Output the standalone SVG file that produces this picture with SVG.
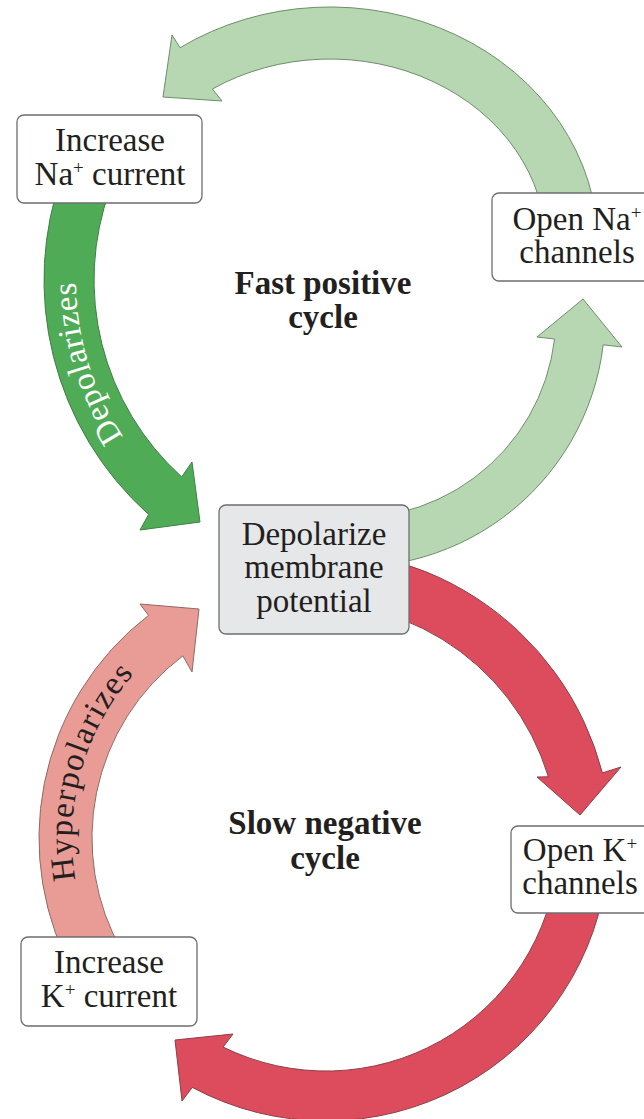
<svg xmlns="http://www.w3.org/2000/svg" width="644" height="1119" viewBox="0 0 644 1119">
<style>
.box{fill:#fff;stroke:#6d6e71;stroke-width:1.3}
.gray{fill:#e6e7e9}
.t{font-family:"Liberation Serif","Times New Roman",serif;font-size:33px;fill:#231f20;text-anchor:middle}
.b{font-weight:bold}
.sup{font-size:19px}
.arr{stroke-width:1}
.lg{fill:#b6d7b1;stroke:#6f8d6c}
.dg{fill:#4fab55;stroke:#3f7f43}
.rd{fill:#dc4c5d;stroke:#8c3f47}
.pk{fill:#e99b95;stroke:#8e6a66}
</style>
<defs>
<path id="p1" d="M184.8,503 A283,283 0 0 1 89.8,192.5"/>
<path id="p2" d="M105.2,962 A248,248 0 0 1 203.6,619"/>
</defs>
<rect width="644" height="1119" fill="#fff"/>
<g id="connectors">
<path id="a1" class="arr lg" d="M598,245 A268,238 0 0 0 180.1,47.7 L172,35 L163,97 L222,101 L212.4,89 A216,186 0 0 1 546,245 Z"/>
<path id="a2" class="arr lg" d="M317.7,514.9 A203,203 0 0 0 554.6,339 L537,337 L583,299 L622,347 L603.2,344.8 A252,252 0 0 1 309.2,563.2 Z"/>
<path id="a3" class="arr dg" d="M63,172.3 A315,315 0 0 0 148.6,514.5 L140,530 L200,522 L192,462 L181.7,476.9 A265,265 0 0 1 110,189.4 Z"/>
<path id="a4" class="arr rd" d="M262.3,554.5 A298,298 0 0 1 602.4,772.9 L621,767 L580,815 L537,777 L548.4,776.8 A245,245 0 0 0 271.5,606.7 Z"/>
<path id="a5" class="arr rd" d="M607.9,862.7 A283,283 0 0 1 192.3,1087.4 L182,1101 L175,1040 L233,1034 L223.1,1047.1 A233,233 0 0 0 558.1,858.3 Z"/>
<path id="a6" class="arr pk" d="M76.6,978.5 A281,281 0 0 1 148.5,615.4 L140,604 L199,609 L192,672 L182.8,655.9 A228,228 0 0 0 122.5,952 Z"/>
<text class="t" style="fill:#ffffff;letter-spacing:0.6px"><textPath href="#p1" startOffset="50%">Depolarizes</textPath></text>
<text class="t" style="letter-spacing:1.5px"><textPath href="#p2" startOffset="50%">Hyperpolarizes</textPath></text>
</g>
<g id="node-increase-na">
<rect class="box" x="17" y="115" width="185" height="88" rx="7"/>
<text class="t" x="110" y="151">Increase</text>
<text class="t" x="110" y="185">Na<tspan class="sup" dy="-11">+</tspan><tspan dy="11"> current</tspan></text>
</g>
<g id="node-open-na">
<rect class="box" x="492" y="193" width="170" height="88" rx="7"/>
<text class="t" x="577" y="230">Open Na<tspan class="sup" dy="-11">+</tspan></text>
<text class="t" x="577" y="263">channels</text>
</g>
<g id="node-depolarize">
<rect class="box gray" x="219" y="505" width="190" height="129" rx="7"/>
<text class="t" x="314" y="545">Depolarize</text>
<text class="t" x="314" y="578">membrane</text>
<text class="t" x="314" y="612">potential</text>
</g>
<g id="node-open-k">
<rect class="box" x="511" y="826" width="150" height="87" rx="7"/>
<text class="t" x="580" y="861">Open K<tspan class="sup" dy="-11">+</tspan></text>
<text class="t" x="580" y="894">channels</text>
</g>
<g id="node-increase-k">
<rect class="box" x="21" y="937" width="176" height="89" rx="7"/>
<text class="t" x="109" y="973">Increase</text>
<text class="t" x="109" y="1007">K<tspan class="sup" dy="-11">+</tspan><tspan dy="11"> current</tspan></text>
</g>
<g id="label-fast">
<text class="t b" x="323" y="294">Fast positive</text>
<text class="t b" x="323" y="328">cycle</text>
</g>
<g id="label-slow">
<text class="t b" x="325" y="834">Slow negative</text>
<text class="t b" x="325" y="869">cycle</text>
</g>
</svg>
